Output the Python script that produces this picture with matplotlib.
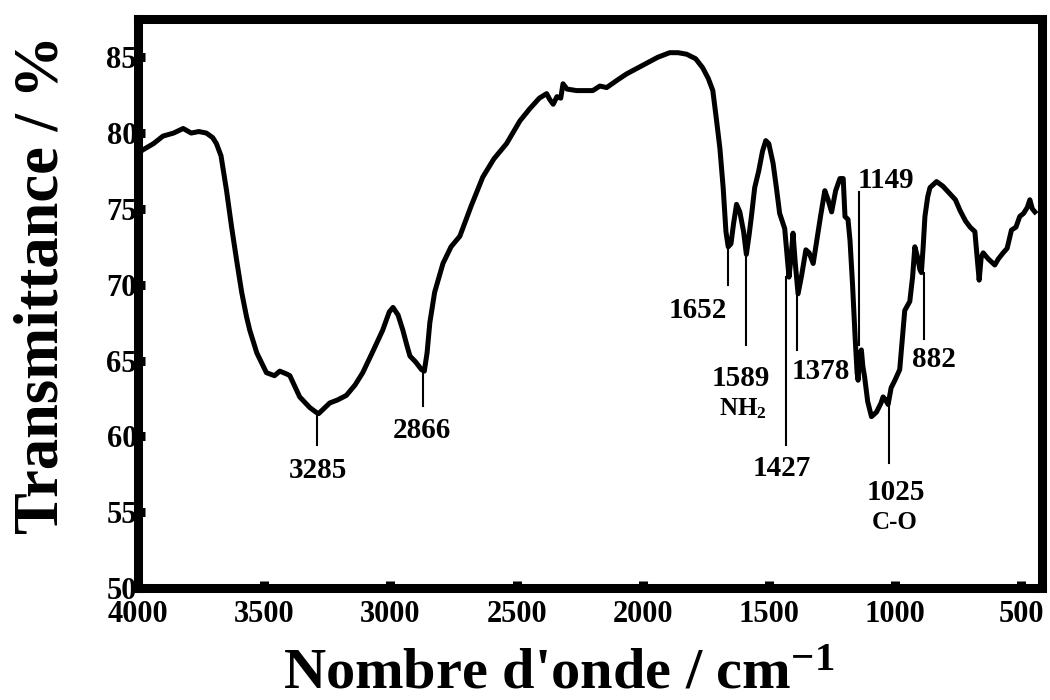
import matplotlib
matplotlib.use("Agg")
import matplotlib.pyplot as plt

plt.rcParams['font.family'] = ['Liberation Serif', 'DejaVu Serif']
plt.rcParams['font.weight'] = 'bold'
plt.rcParams['mathtext.fontset'] = 'custom'
plt.rcParams['mathtext.rm'] = 'Liberation Serif:bold'
plt.rcParams['mathtext.it'] = 'Liberation Serif:italic:bold'
plt.rcParams['mathtext.bf'] = 'Liberation Serif:bold'

# FTIR spectrum (wavenumber in cm-1, transmittance in %)
wavenumber = [3998, 3981, 3940, 3902, 3860, 3822, 3790, 3760, 3730, 3705, 3690, 3672, 3650, 3630,
              3610, 3590, 3571, 3558, 3530, 3492, 3460, 3439, 3410, 3399, 3360, 3320, 3296, 3285,
              3260, 3241, 3210, 3175, 3140, 3110, 3070, 3031, 3005, 2990, 2970, 2951, 2935, 2923,
              2900, 2877, 2866, 2855, 2844, 2825, 2792, 2760, 2725, 2680, 2634, 2590, 2540, 2487,
              2448, 2410, 2381, 2368, 2355, 2340, 2325, 2316, 2300, 2262, 2198, 2170, 2143, 2100,
              2064, 2030, 1985, 1940, 1893, 1860, 1826, 1790, 1762, 1740, 1722, 1707, 1694, 1681,
              1670, 1661, 1650, 1640, 1628, 1615, 1600, 1589, 1578, 1569, 1556, 1540, 1525, 1512,
              1500, 1483, 1470, 1457, 1437, 1428, 1420, 1412, 1404, 1395, 1384, 1370, 1353, 1340,
              1324, 1311, 1295, 1278, 1265, 1251, 1235, 1218, 1205, 1198, 1186, 1178, 1168, 1158,
              1150, 1146, 1140, 1133, 1127, 1120, 1108, 1093, 1073, 1055, 1047, 1037, 1027, 1015,
              1000, 981, 970, 961, 941, 930, 921, 910, 901, 895, 888, 881, 870, 861, 835, 810, 782,
              760, 742, 720, 702, 683, 675, 666, 658, 650, 630, 604, 590, 571, 555, 538, 520, 505,
              490, 475, 465, 455, 445]
transmittance = [78.7, 78.9, 79.3, 79.8, 80.0, 80.3, 80.0, 80.1, 80.0, 79.7, 79.3, 78.5, 76.2, 73.8,
                 71.6, 69.5, 67.9, 67.0, 65.5, 64.2, 64.0, 64.3, 64.1, 64.0, 62.6, 61.9, 61.6, 61.5,
                 61.9, 62.2, 62.4, 62.7, 63.4, 64.2, 65.6, 67.0, 68.2, 68.5, 68.0, 67.0, 66.0, 65.3,
                 64.9, 64.4, 64.3, 65.5, 67.5, 69.5, 71.4, 72.5, 73.2, 75.2, 77.1, 78.3, 79.3, 80.8,
                 81.6, 82.3, 82.6, 82.2, 81.9, 82.4, 82.3, 83.25, 82.9, 82.8, 82.8, 83.1, 83.0, 83.5,
                 83.9, 84.2, 84.6, 85.0, 85.3, 85.3, 85.2, 84.9, 84.3, 83.6, 82.8, 80.8, 79.0, 76.4,
                 73.5, 72.5, 72.7, 74.0, 75.3, 74.8, 73.5, 72.0, 73.3, 74.5, 76.4, 77.5, 78.8, 79.5,
                 79.3, 78.0, 76.4, 74.7, 73.7, 72.0, 70.5, 71.8, 73.4, 71.4, 69.4, 70.6, 72.3, 72.1,
                 71.4, 72.8, 74.5, 76.2, 75.6, 74.8, 76.2, 77.0, 77.0, 74.5, 74.3, 72.9, 70.0, 66.6,
                 64.2, 63.7, 65.4, 65.7, 64.6, 63.9, 62.3, 61.3, 61.6, 62.2, 62.6, 62.4, 62.1, 63.2,
                 63.7, 64.4, 66.5, 68.3, 68.9, 70.5, 72.5, 71.8, 71.0, 70.8, 72.5, 74.5, 75.8, 76.4,
                 76.8, 76.5, 76.0, 75.6, 74.9, 74.2, 73.8, 73.5, 72.0, 70.3, 71.8, 72.1, 71.7, 71.3,
                 71.7, 72.1, 72.4, 73.6, 73.8, 74.5, 74.7, 75.1, 75.6, 75.0, 74.8]

# peak markers: x of the drop line, top and bottom of the line
peak_x = [3290, 2870, 1663, 1589, 1430, 1388, 1143, 1025, 886]
peak_top = [61.5, 64.3, 72.5, 72.0, 70.5, 69.4, 76.1, 62.1, 70.8]
peak_bottom = [59.45, 62.0, 70.0, 66.0, 59.45, 65.7, 66.0, 58.25, 66.4]

# peak labels
label_text = ['3285', '2866', '1652', '1589', '1427', '1378', '1149', '1025', '882']
label_x = [3287, 2876, 1667, 1612, 1450, 1295, 1036, 997, 847]
label_y = [57.26, 59.9, 67.8, 63.3, 57.4, 63.8, 76.4, 55.8, 64.6]
label_ha = ['center', 'center', 'right', 'center', 'center', 'center', 'center', 'center', 'center']

group_text = ['NH$_2$', 'C-O']
group_x = [1603, 1000]
group_y = [61.4, 53.9]

fig = plt.figure(figsize=(10.5, 7), dpi=100)
ax = fig.add_axes([0.1317, 0.16, 0.8604, 0.8124])

ax.plot(wavenumber, transmittance, color='black', lw=3.6, solid_joinstyle='round')

for i in range(len(peak_x)):
    ax.plot([peak_x[i], peak_x[i]], [peak_bottom[i], peak_top[i]], color='black', lw=1.5)
    ax.text(label_x[i], label_y[i], label_text[i], ha=label_ha[i], va='baseline',
            fontsize=21, fontweight='bold')

for i in range(len(group_text)):
    ax.text(group_x[i], group_y[i], group_text[i], ha='center', va='baseline',
            fontsize=18, fontweight='bold')

ax.set_xlim(4000, 418)
ax.set_ylim(50, 87.5)
ax.set_xticks([4000, 3500, 3000, 2500, 2000, 1500, 1000, 500])
ax.set_yticks([50, 55, 60, 65, 70, 75, 80, 85])

for side in ['left', 'right', 'top', 'bottom']:
    ax.spines[side].set_linewidth(6.5)
ax.tick_params(direction='in', length=5, width=6.5, labelsize=22)
ax.tick_params(axis='x', pad=8.5)
ax.tick_params(axis='y', pad=1)
for lab in ax.get_xticklabels() + ax.get_yticklabels():
    lab.set_fontweight('bold')

ax.set_xlabel("Nombre d'onde / cm$^{-1}$", fontsize=42, fontweight='bold')
ax.xaxis.label.set_va('baseline')
ax.xaxis.set_label_coords(0.465, -0.176)
ax.set_ylabel('Transmittance / %', fontsize=45, fontweight='bold')
ax.yaxis.label.set_rotation_mode('anchor')
ax.yaxis.label.set_va('baseline')
ax.yaxis.set_label_coords(-0.089, 0.5345)

fig.savefig('out.png', dpi=100)
